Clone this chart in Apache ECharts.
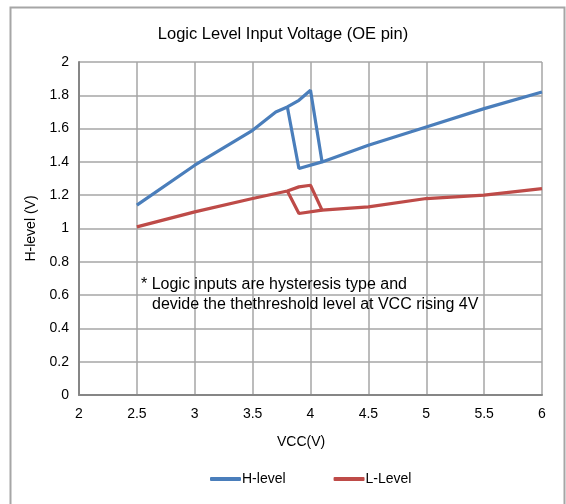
<!DOCTYPE html>
<html><head><meta charset="utf-8">
<script src="https://cdn.jsdelivr.net/npm/echarts@6/dist/echarts.min.js"></script>
<style>html,body{margin:0;padding:0;background:#fff}#c{width:566px;height:504px}</style>
</head><body><div id="c"></div>
<script>
const titleText = "Logic Level Input Voltage (OE pin)";
const xName = "VCC(V)";
const yName = "H-level (V)";
const noteLines = ["* Logic inputs are hysteresis type and", "devide the thethreshold level at VCC rising 4V"];
const hName = "H-level";
const lName = "L-Level";
// main paths [VCC, V]
const hMain = [[2.5,1.14],[3,1.38],[3.5,1.59],[3.7,1.70],[3.8,1.73],[3.9,1.77],[4.0,1.83],[4.1,1.40],[4.5,1.50],[5,1.61],[5.5,1.72],[6,1.82]];
const hBranch = [[3.8,1.73],[3.9,1.36],[4.1,1.40]];
const lMain = [[2.5,1.01],[3,1.10],[3.5,1.18],[3.7,1.21],[3.8,1.225],[3.9,1.25],[4.0,1.26],[4.1,1.11],[4.5,1.13],[5,1.18],[5.5,1.20],[6,1.24]];
const lBranch = [[3.8,1.225],[3.9,1.09],[4.1,1.11]];

const blue = '#4A7EBB', red = '#BE4B48';
const font = 'Liberation Sans';
const chart = echarts.init(document.getElementById('c'), null, {renderer:'canvas'});
function ser(name, data, color){
  return {name, type:'line', data, symbol:'none', lineStyle:{color, width:3.2}, itemStyle:{color}, animation:false};
}
chart.setOption({
  animation:false,
  textStyle:{fontFamily:font},
  title:{text:titleText, left:'center', top:21, textStyle:{fontFamily:font, fontSize:16.5, fontWeight:'normal', color:'#000'}},
  grid:{left:79, right:24, top:62, bottom:109},
  xAxis:{type:'value', min:2, max:6, interval:0.5,
    axisLine:{lineStyle:{color:'#868686', width:2}}, axisTick:{show:false},
    axisLabel:{fontFamily:font, fontSize:14, color:'#000', margin:12},
    splitLine:{lineStyle:{color:'#A6A6A6', width:1.5}}},
  yAxis:{type:'value', min:0, max:2, interval:0.2, name:yName, nameLocation:'middle', nameGap:41,
    nameTextStyle:{fontFamily:font, fontSize:14, color:'#000'},
    axisLine:{show:true, lineStyle:{color:'#868686', width:2}}, axisTick:{show:false},
    axisLabel:{fontFamily:font, fontSize:14, color:'#000', margin:10, formatter:v=>String(Math.round(v*10)/10)},
    splitLine:{lineStyle:{color:'#A6A6A6', width:1.5}}},
  legend:{data:[hName,lName], top:467, left:205, itemWidth:31, itemHeight:4, itemGap:48,
    icon:'roundRect', textStyle:{fontFamily:font, fontSize:14, color:'#000', padding:[0,0,0,-4]}},
  series:[ser(hName,hMain,blue), ser(hName+' ',hBranch,blue), ser(lName,lMain,red), ser(lName+' ',lBranch,red)],
  graphic:[
    {type:'rect', left:8, top:5, shape:{width:554, height:510}, style:{fill:'none', stroke:'#A6A6A6', lineWidth:2}, silent:true, z:-1},
    {type:'text', left:277, top:435, style:{text:xName, font:'14px "Liberation Sans"', fill:'#000'}, z:10},
    {type:'text', left:141, top:277, style:{text:noteLines[0], font:'16px "Liberation Sans"', fill:'#000'}, z:10},
    {type:'text', left:152, top:297, style:{text:noteLines[1], font:'16px "Liberation Sans"', fill:'#000'}, z:10}
  ]
});
</script></body></html>
